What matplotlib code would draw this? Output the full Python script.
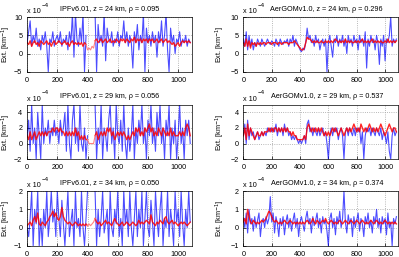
import numpy as np
import matplotlib
matplotlib.use('Agg')
import matplotlib.pyplot as plt

nan = np.nan
# sample index (every 10 profiles)
idx = np.arange(0, 1090, 10)

titles = ['IPFv6.01, z = 24 km, \u03c1 = 0.095', 'AerGOMv1.0, z = 24 km, \u03c1 = 0.296',
          'IPFv6.01, z = 29 km, \u03c1 = 0.056', 'AerGOMv1.0, z = 29 km, \u03c1 = 0.537',
          'IPFv6.01, z = 34 km, \u03c1 = 0.050', 'AerGOMv1.0, z = 34 km, \u03c1 = 0.374']

# extinction in units of 1e-4 km^-1 ; blue = satellite, red = reference
tl_blue = [3, 6, 9, 2, 5, 3, 7, 2, 4, 1, 5, 3, 6, 2, -5, 4, 3, 6, 2, 4, 5, 3, 6, 2, 4, 3, 5, 1, 6, 3,
           11, -1, 11, 4, 2, 7, 3, 11, -5, 5, nan, nan, nan, nan, nan, 11, -5, 8, 3, 5, 2, 11, -2, 7, 4, 3,
           6, 2, 4, 3, 6, 2, 5, 4, 9, 3, 6, 2, 5, 3, -4, 6, 3, 8, 1, 5, 3, 11, -5, 7, 3, 5, 2, 6, 3, 5,
           -1, 6, 3, 9, 2, 5, 11, 1, -5, 7, 3, 5, 0, 4, 3, 6, 2, 4, 3, 5, 2, 4, 3]
tl_red = [3, 2.5, 3.5, 2, 3, 3.5, 2.5, 3, 2, 3.5, 3, 2.5, 3, 3.5, 2.5, 3, 2, 3, 3.5, 2.5, 3, 3.5, 3, 2.5,
          3, 3.5, 2.5, 3, 2, 3, 3.5, 2.5, 3, 2.5, 3, 2.5, 3, 2, 3, 2.5, 1, 1.5, 1, 2, 1.5, 3.5, 4, 3, 3.5,
          4, 3, 3.5, 4, 3, 3.5, 4, 3, 3.5, 3, 4, 3.5, 3, 4, 3.5, 4, 3, 4, 3.5, 3, 4, 3.5, 4.5, 3, 4, 3.5,
          4, 3, 4, 3.5, 4, 3, 4, 3.5, 4, 3, 3.5, 4, 3, 3.5, 4, 3, 3.5, 4, 3, 3.5, 3, 2.5, 3, 2, 2.5, 3,
          2, 3, 3.5, 3, 3.5, 3, 3.5, 3]

tr_blue = [4, 2, 6, 1, 5, 2, 4, 1, 3, 2, 4, 3, 2, 4, 3, 2, 3, 4, 3, 2.5, 3.5, 3, 2, 4, 3, 2, 4, 3, 2.5,
           3.5, 3, 4, 2, 4, 3, 5, 2, 4, 3, 2, 1, 0.5, 1.5, 1, 3, 7, 4, 5, 3, 4, 2, 5, 3, 4, 1, 3, 4, 2, 4,
           -5, 3, 5, 2, -1, 4, 3, 5, 2, 4, 3, 5, 2, 4, 0, 5, 3, 4, 2, 5, 3, 4, 1, 5, 3, 4, 2, 6, -4, 4, 2,
           5, 3, 4, 1, 5, 3, -3, 4, 2, 5, -2, 4, 3, 5, 10, 2, 4, 3, 4]
tr_red = [3, 2, 4, 2, 3.5, 1.5, 3, 2.5, 3, 2, 3, 2.5, 3, 2.5, 3, 3, 2.5, 3, 3, 3, 2.5, 3, 3, 3, 2.5, 3,
          3, 2.5, 3, 3, 3, 3, 2.5, 3, 3, 3, 3.5, 3, 2.5, 2, 1.5, 1, 1, 1.5, 3, 4.5, 4, 4, 3.5, 3, 3.5, 3,
          3.5, 3, 3, 3.5, 3, 3, 3.5, 3, 3.5, 3, 3.5, 3, 3.5, 4, 3.5, 3, 3.5, 3, 3.5, 3, 4, 3, 3.5, 3, 3.5,
          3, 3, 3.5, 3, 3.5, 3, 3.5, 4, 3, 3.5, 3, 3.5, 3, 3.5, 4, 3, 3.5, 3, 3.5, 3, 3.5, 3, 3, 3.5, 3,
          4, 3, 3.5, 3, 3.5, 3, 3.5]

ml_blue = [1, 3, -1, 5, 0, 2, -2, 4, 1, -2, 5, 0, 2, 1, 3, 0, 2, 1, 3, 1, 2, 0, 3, 1, 2, 4, -1, 5, 0, -2,
           3, 5, 0, 2, -1, 5, 0, -1, 2, -2, 1, nan, nan, nan, nan, 5, -2, 2, 0, 5, -2, 2, 1, -1, 3, 5, 0,
           2, -2, 5, 1, 0, 3, -1, 5, 0, -2, 2, -1, 1, 5, -2, 2, 0, 3, 1, 5, 0, 2, -2, 3, 1, 5, 0, 2, -1, 4,
           1, 5, 0, 2, -2, 3, 1, 5, -2, 2, 0, 3, -2, 1, 5, 0, 2, -2, 3, 1, 3, 0]
ml_red = [1, 0.5, 1.5, 0.5, 1, 1.5, 0.5, 1, 1.5, 1, 1.5, 1, 1.5, 1, 1.5, 1.5, 1.5, 2, 1.5, 2, 2, 1.5, 2,
          1.5, 1.5, 1, 1.5, 1, 1.5, 1, 1.5, 1, 2, 1, 1.5, 0.5, 1, 0.5, 1, 0.5, 0.5, 0, 0, 0, 0, 1, 1.5, 0.5,
          1, 1.5, 1, 1.5, 1, 2, 1.5, 2, 1, 1.5, 0.5, 1, 1.5, 1, 1.5, 1, 1.5, 1, 0.5, 1, 0.5, 1, 1.5, 1, 2,
          1.5, 2, 1, 1.5, 1, 2, 1.5, 2, 2.5, 1.5, 2, 1, 1.5, 1, 2, 1.5, 1, 2, 1.5, 1, 1.5, 1, 2, 1, 1.5, 1,
          1, 1, 1.5, 1, 1.5, 1, 2, 2.5, 2, 1]

mr_blue = [1, 2.5, 0, 3, 0.5, 2, 1, 1.5, 0.5, 1, 1.5, 0.5, 1, 1.5, 1, 1.5, 1, 2, 1.5, 2, 1.5, 2, 1.5, 2.5,
           1, 2, 1.5, 2, 1, 2.5, 1.5, 2, 1, 1.5, 0.5, 1, 0.5, 1, 0.5, 0, 0.5, 0, 0.5, 1, 0, 2.5, 3, 1.5, 2,
           1, 2, 1.5, 1, 2, 1, 1.5, 2, 1, 1.5, 0, -2, 1, 2, 1, 2, 1.5, 2, 0.5, 1.5, 2, 1, -2, 1.5, 2, 1, 2,
           1.5, 1, 2, 1, 2, 1.5, 2, 0, 1.5, -2, 1, 2, 1.5, 2, 1, 2, 1.5, 1, 2, 1.5, 1, 2, 0.5, 1.5, 1, 0,
           1.5, -1, -2, 1, 2, 1, 1.5]
mr_red = [1, 2, 0.5, 2.5, 1, 2, 1.5, 1, 0.5, 1, 1.5, 1, 1, 1.5, 1, 1.5, 1.5, 1.5, 2, 1.5, 2, 1.5, 2, 2,
          1.5, 2, 1.5, 2, 1.5, 2, 1.5, 2, 1.5, 1.5, 1, 1.5, 1, 1, 0.5, 0.5, 0.5, 0.5, 0.5, 1, 0.5, 2, 2.5,
          2, 1.5, 2, 1.5, 2, 1.5, 2, 1.5, 2, 1.5, 1, 1.5, 1, 1.5, 1, 1.5, 2, 1.5, 2, 1.5, 1, 1.5, 2, 1.5, 1,
          1.5, 2, 1.5, 2, 1.5, 2, 2.5, 2, 1.5, 2, 1.5, 2.5, 2, 1.5, 2, 1.5, 2, 2.5, 2, 1.5, 2, 1.5, 2, 1.5,
          2, 2.5, 2, 1.5, 1, 1.5, 2, 2.5, 2, 1.5, 2, 2, 1.5]

bl_blue = [0, -0.5, 0.5, 2, -1, 1, 0.2, 2, -1, 0.5, -1, 1, 0, 2, -0.5, 0.5, 2, 0.3, 1, -0.5, 2, 0.5,
           -0.5, 1.5, 0.2, -1, 0.5, 2, -0.5, 0.3, 1, -1, 2, 0, 0.5, -0.5, 2, 0, -1, 0.5, 2, nan, nan, nan,
           nan, 2, -1, 1, -0.5, 0.5, 2, -0.3, 0.3, 1, -1, 2, 0, -0.5, 1, 0.2, 2, -0.5, 0.5, -1, 2, 0.2, 1,
           -0.5, 2, 0, -1, 0.5, 2, -0.5, 1, 0, 2, -1, 0.5, 2, 0, -0.5, 1.5, 0.3, -1, 2, 0.5, -0.5, 1, 2,
           -1, 0.5, 0, 2, -0.5, 1, 0.2, -1, 2, 0.3, 1, -0.5, 2, 0.2, -1, 1, 0, 2, 0.3]
bl_red = [0.1, 0.2, 0.3, 0.1, 0.4, 0.6, 0.3, 0.8, 0.2, 0.1, 0.3, 0.2, 0.1, 0.3, 0.4, 0.6, 0.7, 0.9, 0.6,
          0.8, 0.5, 0.4, 0.6, 1.1, 0.6, 0.4, 0.3, 0.2, 0.3, 0.2, 0.1, 0.2, 0.3, 0.2, 0.1, 0.2, 0.1, 0.2,
          0.1, 0.2, 0.1, 0.2, 0.1, 0.2, 0.3, 0.5, 0.3, 0.2, 0.3, 0.1, 0.2, 0.3, 0.4, 0.2, 0.3, 0.2, 0.1,
          0.3, 0.5, 0.3, 0.2, 0.1, 0.2, 0.3, 0.1, 0.2, 0.3, 0.2, 0.1, 0.2, 0.3, 0.2, 0.1, 0.2, 0.4, 0.2,
          0.3, 0.2, 0.3, 0.4, 0.3, 0.2, 0.7, 0.3, 0.2, 0.1, 0.3, 0.2, 0.4, 0.3, 0.2, 0.5, 0.6, 0.3, 0.2,
          0.3, 0.4, 0.2, 0.3, 0.2, 0.1, 0.2, 0.3, 0.2, 0.3, 0.2, 0.1, 0.2, 0.3]

br_blue = [0.5, 0, 0.8, -0.3, 1, 0.2, 0.5, -0.2, 0.6, 0, 0.4, 0.8, -0.5, 0.3, 0.5, 0, 0.6, 0.2, 0.5, 1.7,
           0.3, 0.8, -0.3, 0.6, 0.2, -0.5, 0.5, 0.1, 0.6, -0.4, 0.3, 0.7, 0, 0.5, -0.2, 0.4, 0.8, 0, 0.5,
           -0.5, 0.3, 0.6, 0.2, -0.2, 0.5, 0.9, 0.2, 0.5, -0.3, 0.6, 0.1, 0.4, 0.8, 0, 0.5, -0.3, 0.6, 0.2,
           0.4, -0.2, -1, 0.5, 0.8, 0, 0.5, -0.4, 0.6, 0.2, 0.9, 0, 0.5, 2, 0.3, -0.3, 0.7, 0.2, 0.5, -0.5,
           0.6, 0, 0.4, 0.8, -0.2, 0.5, 0.2, -0.5, 0.6, 0.2, 0.8, 0, 0.4, -0.3, 0.6, 0.2, 1, 0, 0.5, -0.3,
           0.6, 0.2, 0.5, -0.4, 0.8, 0, 0.3, -1, 0.5, 0.2, 0.6]
br_red = [0.3, 0.5, 0.2, 1, 0.6, 0.3, 0.2, 0.4, 0.3, 0.2, 0.3, 0.2, 0.3, 0.4, 0.3, 0.4, 0.5, 0.7, 0.9,
          0.8, 0.6, 0.4, 0.3, 0.4, 0.3, 0.2, 0.3, 0.2, 0.3, 0.4, 0.3, 0.2, 0.3, 0.4, 0.3, 0.2, 0.3, 0.2,
          0.3, 0.2, 0.3, 0.2, 0.3, 0.2, 0.3, 0.4, 0.3, 0.2, 0.3, 0.5, 0.3, 0.2, 0.4, 0.3, 0.2, 0.3, 0.4,
          0.3, 0.5, 0.3, 0.2, 0.3, 0.4, 0.3, 0.2, 0.3, 0.2, 0.3, 0.4, 0.3, 0.2, 0.3, 0.4, 0.3, 0.2, 0.3,
          0.4, 0.3, 0.2, 0.3, 0.4, 0.3, 0.2, 0.3, 0.4, 0.3, 0.2, 0.3, 0.2, 0.3, 0.4, 0.3, 0.2, 0.3, 0.4,
          0.3, 0.2, 0.3, 0.2, 0.3, 0.4, 0.3, 0.2, 0.3, 0.2, 0.3, 0.2, 0.3, 0.2]

blues = [tl_blue, tr_blue, ml_blue, mr_blue, bl_blue, br_blue]
reds = [tl_red, tr_red, ml_red, mr_red, bl_red, br_red]
ylims = [(-5, 10), (-5, 10), (-2, 5), (-2, 5), (-1, 2), (-1, 2)]
yticks = [[-5, 0, 5, 10], [-5, 0, 5, 10], [-2, 0, 2, 4], [-2, 0, 2, 4], [-1, 0, 1, 2], [-1, 0, 1, 2]]

plt.rcParams['font.family'] = ['Liberation Sans', 'DejaVu Sans']
plt.rcParams['font.size'] = 5.2

fig = plt.figure(figsize=(3.99, 2.57), dpi=100)
lefts = [0.068, 0.610]
widths = [0.4125, 0.387]
bottoms = [0.721, 0.381, 0.044]
height = 0.212
title_x = [0.5, 0.54]
label_x = [-0.085, -0.105]

for i in range(6):
    r, c = divmod(i, 2)
    ax = fig.add_axes([lefts[c], bottoms[r], widths[c], height])
    b = np.array(blues[i], dtype=float)
    rd = np.array(reds[i], dtype=float)
    # reference where satellite has no data shown lighter
    gap = np.isnan(b)
    near_gap = gap | np.roll(gap, 1) | np.roll(gap, -1)
    ax.plot(idx, b, color='#0000ff', lw=0.8, alpha=0.7)
    ax.plot(idx, np.where(gap, nan, rd), color='#ff0000', lw=1.0, alpha=0.85)
    ax.plot(idx, np.where(near_gap, rd, nan), color='#ff8080', lw=0.8)
    ax.set_xlim(0, 1090)
    ax.set_ylim(*ylims[i])
    ax.set_xticks([0, 200, 400, 600, 800, 1000])
    ax.set_yticks(yticks[i])
    ax.grid(True, linestyle=':', color='#a0a0a0', lw=0.6)
    ax.tick_params(direction='in', length=2, width=0.5, pad=3.5)
    for s in ax.spines.values():
        s.set_linewidth(0.5)
    ax.set_ylabel('Ext. [km$^{-1}$]')
    ax.yaxis.set_label_coords(label_x[c], 0.5)
    ax.set_title(titles[i], fontsize=5.2, pad=4.5, x=title_x[c])
    ax.text(0.0, 1.07, 'x 10', transform=ax.transAxes, ha='left', va='baseline')
    ax.text(0.09, 1.19, '\u22124', transform=ax.transAxes, ha='left', va='baseline', fontsize=4.5)

plt.savefig('out.png', dpi=100)
